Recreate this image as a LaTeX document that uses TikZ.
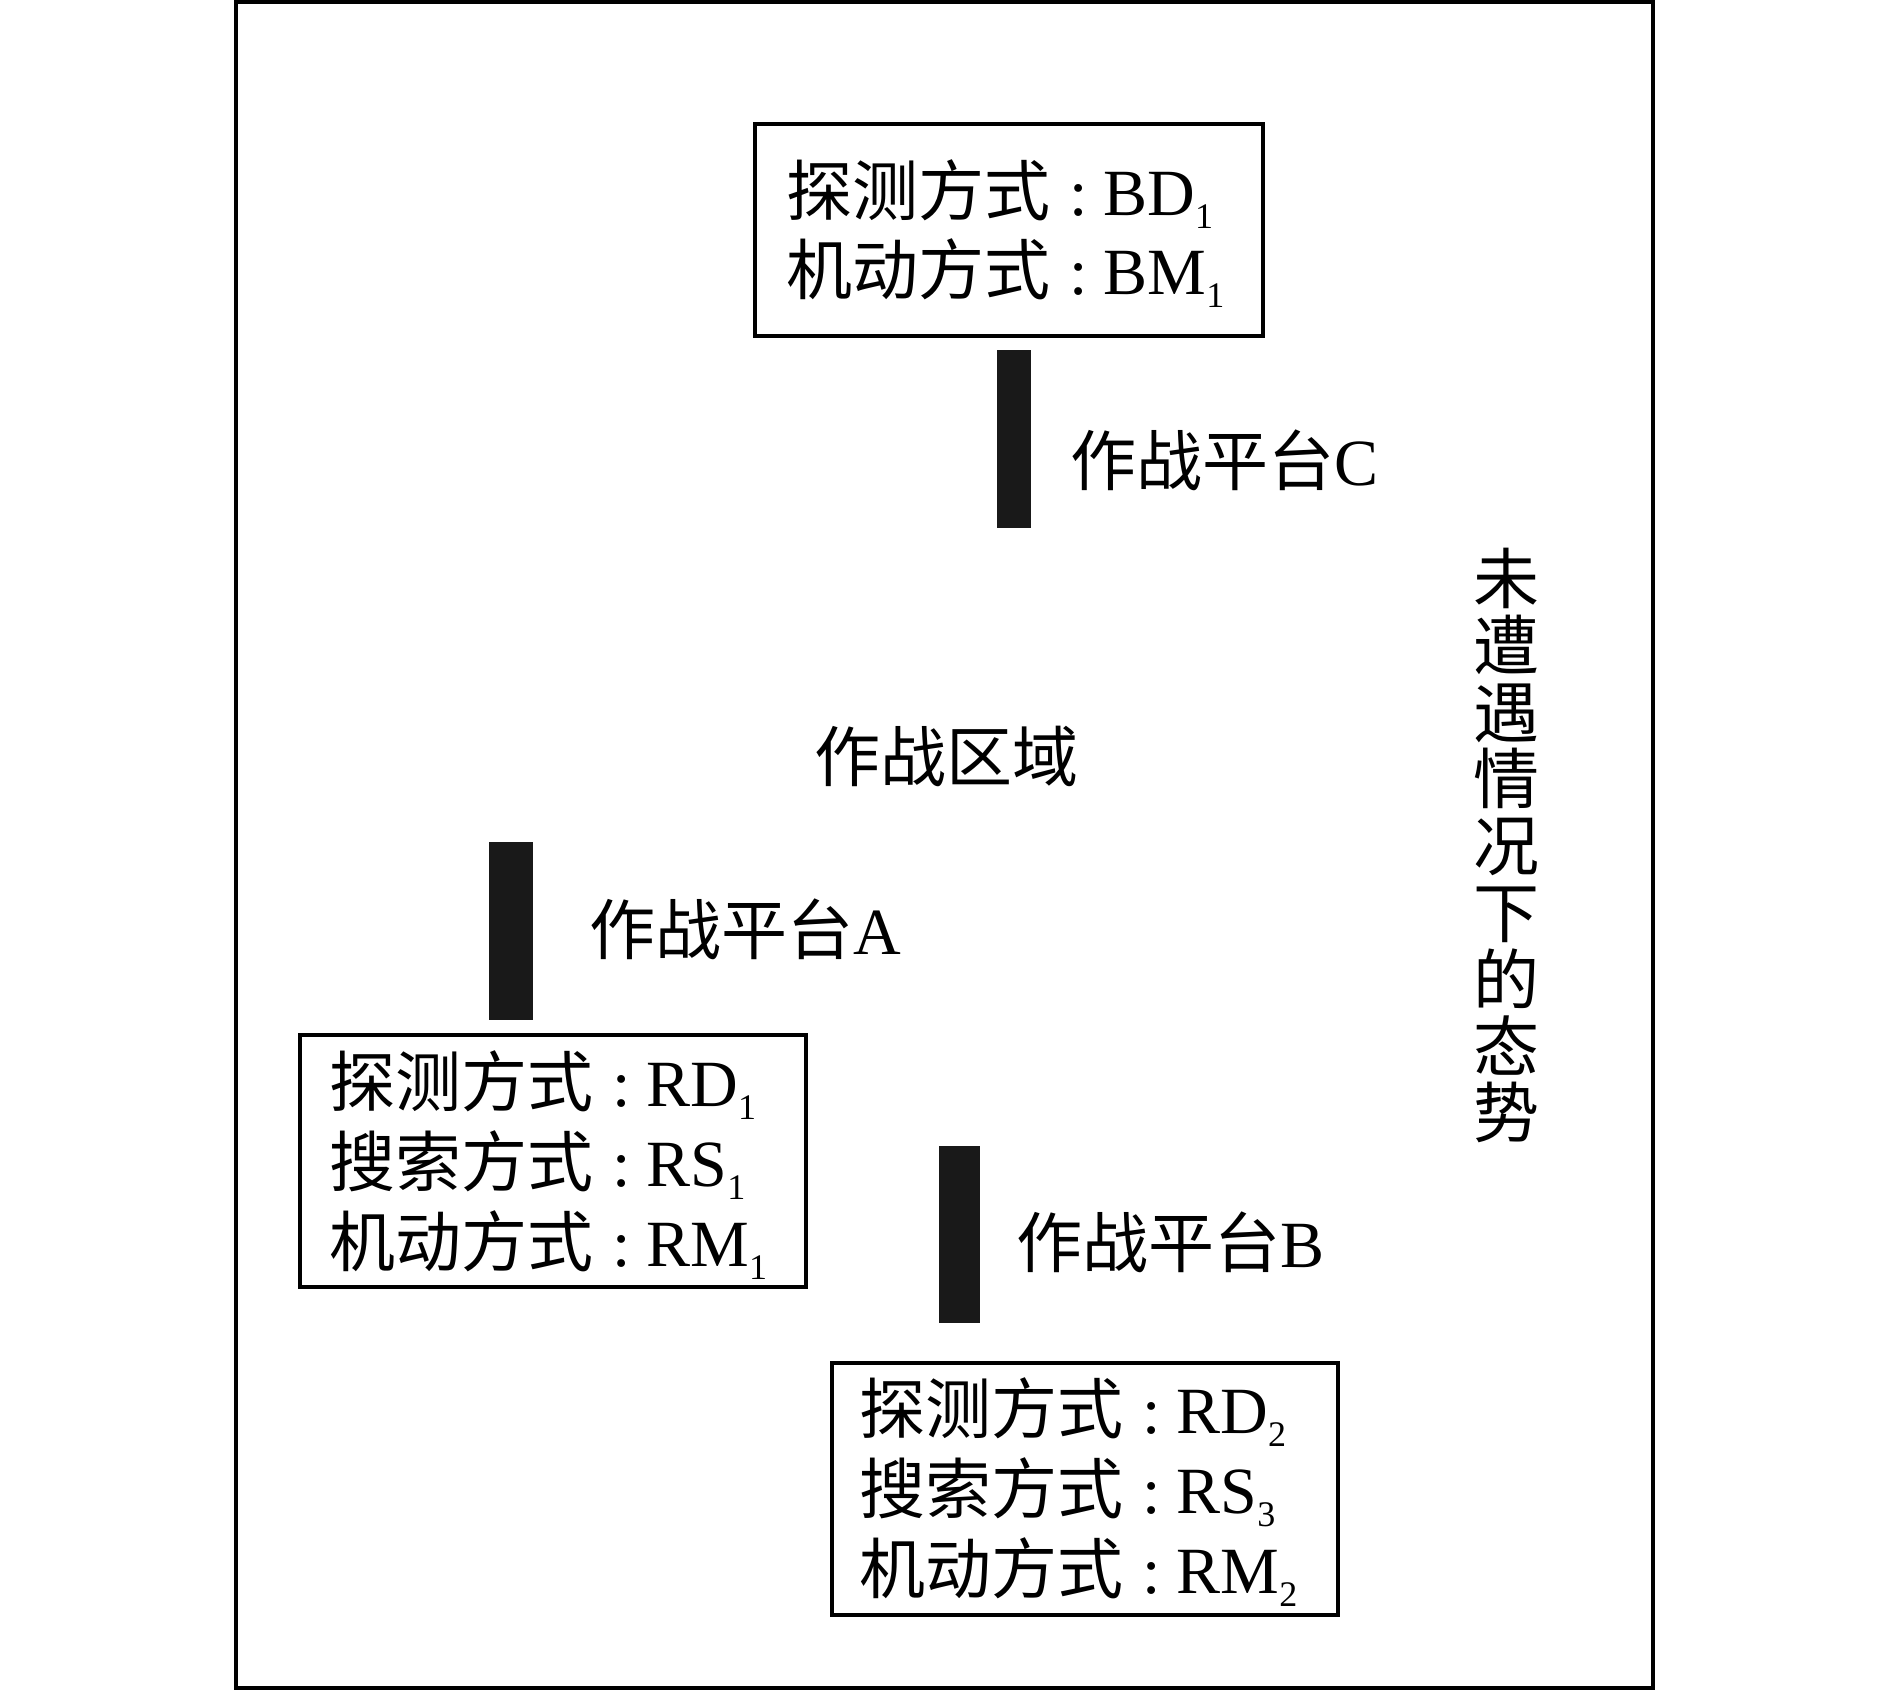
\documentclass[tikz,border=0pt]{standalone}
\usepackage{fontspec}
\setmainfont{Liberation Serif}
\newfontfamily\cjk{Noto Sans CJK SC}
\newcommand\sbs[1]{\raisebox{-13pt}{\fontsize{36}{36}\selectfont #1}}
\newcommand\kv[2]{{\cjk #1}\hspace{19pt}:\hspace{16pt}#2}
\begin{document}
\begin{tikzpicture}[x=1pt,y=-1pt,
  txt/.style={inner sep=0pt, anchor=base west, font=\fontsize{66}{66}\selectfont},
  infobox/.style={draw=black, line width=4.7pt},
  platbar/.style={fill=black!90, draw=none}]
\useasboundingbox (0,0) rectangle (1889,1690);
% outer frame
\draw[line width=4pt] (236,2) rectangle (1653,1688);
% box C
\draw[infobox] (755,124) rectangle (1263,336);
\node[txt] (c1) at (786,215) {\kv{探测方式}{BD\sbs{1}}};
\node[txt] (c2) at (786,294) {\kv{机动方式}{BM\sbs{1}}};
% bar C
\fill[platbar] (997,350) rectangle (1031,528);
\node[txt] (lc) at (1070,485) {{\cjk 作战平台}C};
% area label
\node[txt] (area) at (814,781) {\cjk 作战区域};
% bar A
\fill[platbar] (489,842) rectangle (533,1020);
\node[txt] (la) at (589,954) {{\cjk 作战平台}A};
% box A
\draw[infobox] (300,1035) rectangle (806,1287);
\node[txt] (a1) at (329,1106) {\kv{探测方式}{RD\sbs{1}}};
\node[txt] (a2) at (329,1186) {\kv{搜索方式}{RS\sbs{1}}};
\node[txt] (a3) at (329,1266) {\kv{机动方式}{RM\sbs{1}}};
% bar B
\fill[platbar] (939,1146) rectangle (980,1323);
\node[txt] (lb) at (1016,1267) {{\cjk 作战平台}B};
% box B
\draw[infobox] (832,1363) rectangle (1338,1615);
\node[txt] (b1) at (859,1433) {\kv{探测方式}{RD\sbs{2}}};
\node[txt] (b2) at (859,1513) {\kv{搜索方式}{RS\sbs{3}}};
\node[txt] (b3) at (859,1593) {\kv{机动方式}{RM\sbs{2}}};
% vertical text
\node[inner sep=0pt, anchor=north, align=center, font=\cjk\fontsize{66}{66.8}\selectfont] (vt) at (1506,548) {未\\遭\\遇\\情\\况\\下\\的\\态\\势};
\end{tikzpicture}
\end{document}
